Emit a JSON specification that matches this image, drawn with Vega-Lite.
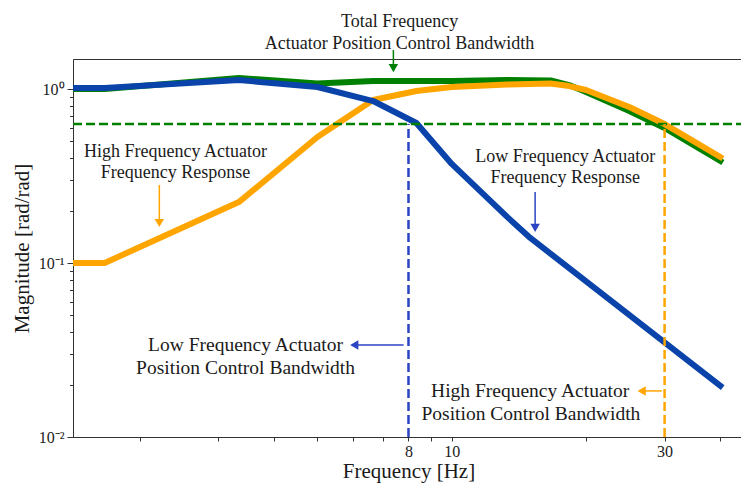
{
  "$schema": "https://vega.github.io/schema/vega-lite/v6.json",
  "width": 671,
  "height": 378,
  "autosize": {"type": "none"},
  "padding": {"left": 73, "top": 59, "right": 0, "bottom": 48},
  "config": {
    "font": "Liberation Serif",
    "view": {"stroke": "#333333", "strokeWidth": 1},
    "axis": {
      "grid": false,
      "domainColor": "#333333",
      "tickColor": "#333333",
      "labelColor": "#1a1a1a",
      "titleColor": "#1a1a1a",
      "labelFont": "Liberation Serif",
      "titleFont": "Liberation Serif",
      "labelFontSize": 16,
      "titleFontSize": 21,
      "titleFontWeight": "normal",
      "labelOverlap": false
    }
  },
  "datasets": {
    "curves": [
      {"x": 1.416, "y": 1.0, "s": "Total"},
      {"x": 1.667, "y": 1.0, "s": "Total"},
      {"x": 3.333, "y": 1.157, "s": "Total"},
      {"x": 5.0, "y": 1.075, "s": "Total"},
      {"x": 6.667, "y": 1.112, "s": "Total"},
      {"x": 8.333, "y": 1.112, "s": "Total"},
      {"x": 10.0, "y": 1.112, "s": "Total"},
      {"x": 13.33, "y": 1.126, "s": "Total"},
      {"x": 16.67, "y": 1.119, "s": "Total"},
      {"x": 18.33, "y": 1.054, "s": "Total"},
      {"x": 20.0, "y": 0.961, "s": "Total"},
      {"x": 25.0, "y": 0.747, "s": "Total"},
      {"x": 30.0, "y": 0.597, "s": "Total"},
      {"x": 40.0, "y": 0.386, "s": "Total"},
      {"x": 1.416, "y": 0.1, "s": "High"},
      {"x": 1.667, "y": 0.1, "s": "High"},
      {"x": 3.333, "y": 0.224, "s": "High"},
      {"x": 5.0, "y": 0.53, "s": "High"},
      {"x": 6.667, "y": 0.865, "s": "High"},
      {"x": 8.333, "y": 0.974, "s": "High"},
      {"x": 10.0, "y": 1.027, "s": "High"},
      {"x": 13.33, "y": 1.061, "s": "High"},
      {"x": 16.67, "y": 1.075, "s": "High"},
      {"x": 18.33, "y": 1.04, "s": "High"},
      {"x": 20.0, "y": 0.987, "s": "High"},
      {"x": 25.0, "y": 0.788, "s": "High"},
      {"x": 30.0, "y": 0.629, "s": "High"},
      {"x": 40.0, "y": 0.407, "s": "High"},
      {"x": 1.416, "y": 1.013, "s": "Low"},
      {"x": 1.667, "y": 1.013, "s": "Low"},
      {"x": 3.333, "y": 1.126, "s": "Low"},
      {"x": 5.0, "y": 1.027, "s": "Low"},
      {"x": 6.667, "y": 0.853, "s": "Low"},
      {"x": 8.333, "y": 0.638, "s": "Low"},
      {"x": 10.0, "y": 0.371, "s": "Low"},
      {"x": 13.33, "y": 0.1836, "s": "Low"},
      {"x": 15.0, "y": 0.1394, "s": "Low"},
      {"x": 40.0, "y": 0.0197, "s": "Low"}
    ],
    "hline": [
      {"x": 1.416, "x2": 45.2, "y": 0.63, "s": "Total"}
    ],
    "vlines": [
      {"x": 8.0, "y": 0.01, "y2": 0.63, "s": "LowMark"},
      {"x": 30.0, "y": 0.01, "y2": 0.63, "s": "High"}
    ],
    "vshafts": [
      {"x": 7.40, "y": 1.675, "y2": 1.30, "s": "Total"},
      {"x": 2.211, "y": 0.281, "y2": 0.172, "s": "High"},
      {"x": 15.38, "y": 0.2556, "y2": 0.161, "s": "LowMark"}
    ],
    "hshafts": [
      {"x": 7.80, "x2": 6.1, "y": 0.0338, "s": "LowMark"},
      {"x": 29.56, "x2": 26.9, "y": 0.0184, "s": "High"}
    ],
    "heads": [
      {"x": 7.40, "y": 1.32, "s": "Total", "d": "down"},
      {"x": 2.211, "y": 0.1698, "s": "High", "d": "down"},
      {"x": 15.38, "y": 0.159, "s": "LowMark", "d": "down"},
      {"x": 6.046, "y": 0.0338, "s": "LowMark", "d": "left"},
      {"x": 26.65, "y": 0.0184, "s": "High", "d": "left"}
    ],
    "notes": [
      {"x": 7.64, "y": 2.427, "t": "Total Frequency"},
      {"x": 7.64, "y": 1.815, "t": "Actuator Position Control Bandwidth"},
      {"x": 2.403, "y": 0.4355, "t": "High Frequency Actuator"},
      {"x": 2.403, "y": 0.329, "t": "Frequency Response"},
      {"x": 17.97, "y": 0.4065, "t": "Low Frequency Actuator"},
      {"x": 17.97, "y": 0.308, "t": "Frequency Response"}
    ],
    "bwnotes": [
      {"x": 3.45, "y": 0.0338, "t": "Low Frequency Actuator"},
      {"x": 3.45, "y": 0.025, "t": "Position Control Bandwidth"},
      {"x": 14.99, "y": 0.0184, "t": "High Frequency Actuator"},
      {"x": 15.05, "y": 0.01352, "t": "Position Control Bandwidth"}
    ]
  },
  "encoding": {
    "x": {
      "field": "x",
      "type": "quantitative",
      "scale": {"type": "log", "domain": [1.416, 45.2], "nice": false, "zero": false},
      "axis": {
        "title": "Frequency [Hz]",
        "values": [2, 3, 4, 5, 6, 7, 8, 9, 10, 20, 30, 40],
        "labelExpr": "datum.value == 8 ? '8' : datum.value == 10 ? '10' : datum.value == 30 ? '30' : ''",
        "labelFlush": false,
        "tickSize": 4,
        "labelPadding": 2,
        "titlePadding": 1
      }
    },
    "y": {
      "field": "y",
      "type": "quantitative",
      "scale": {"type": "log", "domain": [0.01, 1.488], "nice": false, "zero": false},
      "axis": {
        "title": "Magnitude [rad/rad]",
        "values": [0.01, 0.02, 0.03, 0.04, 0.05, 0.06, 0.07, 0.08, 0.09, 0.1, 0.2, 0.3, 0.4, 0.5, 0.6, 0.7, 0.8, 0.9, 1],
        "labelExpr": "datum.value == 1 ? '10⁰' : datum.value == 0.1 ? '10⁻¹' : datum.value == 0.01 ? '10⁻²' : ''",
        "tickSize": {"condition": {"test": "datum.value == 1 || datum.value == 0.1 || datum.value == 0.01", "value": 6}, "value": 3.5},
        "labelPadding": 3,
        "titlePadding": 6
      }
    }
  },
  "layer": [
    {
      "data": {"name": "curves"},
      "transform": [{"filter": "datum.s == 'Total'"}],
      "mark": {"type": "line", "strokeWidth": 6, "strokeJoin": "round", "strokeCap": "square", "clip": true},
      "encoding": {
        "color": {"field": "s", "type": "nominal", "legend": null,
          "scale": {"domain": ["Total", "High", "Low", "LowMark"], "range": ["#008000", "#ffa500", "#0a44aa", "#2b44c4"]}}
      }
    },
    {
      "data": {"name": "curves"},
      "transform": [{"filter": "datum.s == 'High'"}],
      "mark": {"type": "line", "strokeWidth": 6, "strokeJoin": "round", "strokeCap": "square", "clip": true},
      "encoding": {"color": {"field": "s", "type": "nominal", "legend": null}}
    },
    {
      "data": {"name": "curves"},
      "transform": [{"filter": "datum.s == 'Low'"}],
      "mark": {"type": "line", "strokeWidth": 6, "strokeJoin": "round", "strokeCap": "square", "clip": true},
      "encoding": {"color": {"field": "s", "type": "nominal", "legend": null}}
    },
    {
      "data": {"name": "hline"},
      "mark": {"type": "rule", "strokeWidth": 2.5, "strokeDash": [9, 4], "clip": true},
      "encoding": {
        "x2": {"field": "x2"},
        "color": {"field": "s", "type": "nominal", "legend": null}
      }
    },
    {
      "data": {"name": "vlines"},
      "mark": {"type": "rule", "strokeWidth": 2.5, "strokeDash": [9, 4], "clip": true},
      "encoding": {
        "y2": {"field": "y2"},
        "color": {"field": "s", "type": "nominal", "legend": null}
      }
    },
    {
      "data": {"name": "vshafts"},
      "mark": {"type": "rule", "strokeWidth": 1.5, "clip": false},
      "encoding": {
        "y2": {"field": "y2"},
        "color": {"field": "s", "type": "nominal", "legend": null}
      }
    },
    {
      "data": {"name": "hshafts"},
      "mark": {"type": "rule", "strokeWidth": 1.5, "clip": false},
      "encoding": {
        "x2": {"field": "x2"},
        "color": {"field": "s", "type": "nominal", "legend": null}
      }
    },
    {
      "data": {"name": "heads"},
      "mark": {"type": "point", "filled": true, "opacity": 1, "size": 90, "clip": false},
      "encoding": {
        "color": {"field": "s", "type": "nominal", "legend": null},
        "shape": {"field": "d", "type": "nominal", "legend": null,
          "scale": {"domain": ["down", "left"], "range": ["triangle-down", "triangle-left"]}}
      }
    },
    {
      "data": {"name": "notes"},
      "mark": {"type": "text", "fontSize": 18, "font": "Liberation Serif", "color": "#1a1a1a", "align": "center", "baseline": "middle", "clip": false},
      "encoding": {"text": {"field": "t", "type": "nominal"}}
    },
    {
      "data": {"name": "bwnotes"},
      "mark": {"type": "text", "fontSize": 19.5, "font": "Liberation Serif", "color": "#1a1a1a", "align": "center", "baseline": "middle", "clip": false},
      "encoding": {"text": {"field": "t", "type": "nominal"}}
    }
  ]
}
